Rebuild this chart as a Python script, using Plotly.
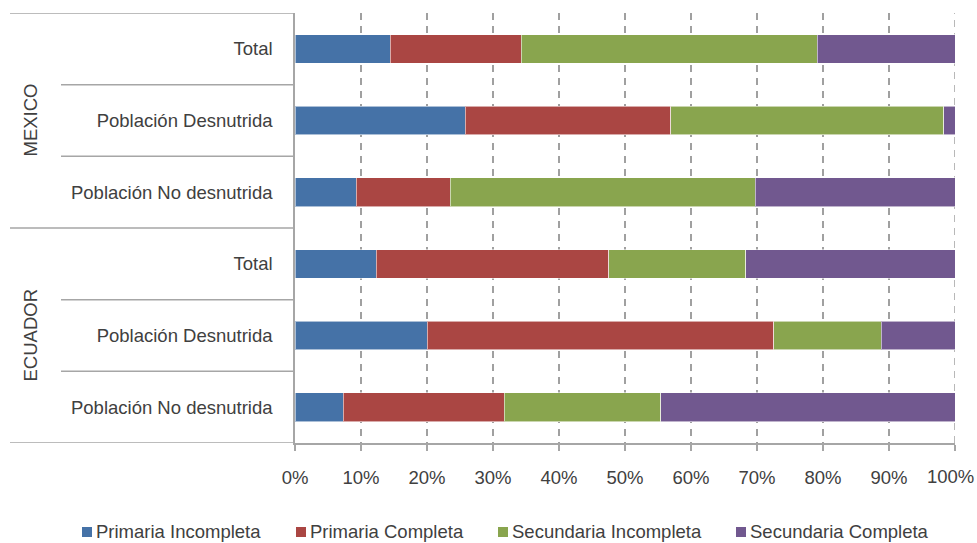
import plotly.graph_objects as go

# ---------------- data ----------------
groups = ["MEXICO", "ECUADOR"]
categories = ["Total", "Población Desnutrida", "Población No desnutrida",
              "Total", "Población Desnutrida", "Población No desnutrida"]
category_group = ["MEXICO", "MEXICO", "MEXICO", "ECUADOR", "ECUADOR", "ECUADOR"]

series_names = ["Primaria Incompleta", "Primaria Completa",
                "Secundaria Incompleta", "Secundaria Completa"]
primaria_incompleta = [14.4, 25.8, 9.3, 12.3, 20.0, 7.3]
primaria_completa = [19.9, 31.1, 14.2, 35.2, 52.5, 24.4]
secundaria_incompleta = [44.8, 41.4, 46.2, 20.8, 16.3, 23.7]
secundaria_completa = [20.9, 1.7, 30.3, 31.7, 11.2, 44.6]
series_values = [primaria_incompleta, primaria_completa,
                 secundaria_incompleta, secundaria_completa]

x_tick_values = [0, 10, 20, 30, 40, 50, 60, 70, 80, 90, 100]
x_tick_labels = [f"{v}%" for v in x_tick_values]

# ---------------- style ----------------
colors = ["#4572A7", "#AA4643", "#89A54E", "#71588F"]
FONT = "Liberation Sans, Arial, sans-serif"
FS = 18.5
TXT = "#404040"
LINE = "#A6A6A6"
GRID = "#A0A0A0"

W, H = 977, 543
L, R, T, B = 295, 22, 13, 100
PW, PH = W - L - R, H - T - B


def px(x):
    return (x - L) / PW


def py(y):
    return (H - B - y) / PH


positions = list(range(len(categories)))

fig = go.Figure()
for name, vals, col in zip(series_names, series_values, colors):
    fig.add_trace(go.Bar(
        x=vals, y=positions, orientation="h", name=name,
        marker=dict(color=col, line=dict(color="rgba(255,255,255,0.55)", width=1)),
        showlegend=False,
        hovertemplate="%{x:.1f}%<extra>" + name + "</extra>",
    ))

shapes = []
annotations = []
n = len(categories)

# dashed gridline at the right edge (plotly omits the edge gridline)
shapes.append(dict(type="line", xref="x", yref="paper",
                   x0=x_tick_values[-1], x1=x_tick_values[-1], y0=0, y1=1,
                   line=dict(color=GRID, width=1.5, dash="7px,6px"), layer="below"))

# last tick label kept inside the page (right-aligned at the page edge)
annotations.append(dict(
    x=px(976.5), y=py(476), xref="paper", yref="paper",
    text=x_tick_labels[-1], showarrow=False, xanchor="right", yanchor="middle",
    font=dict(family=FONT, size=FS, color=TXT)))

# horizontal separators on the left category area
group_bounds = []
for gi, g in enumerate(groups):
    idx = [i for i, c in enumerate(category_group) if c == g]
    group_bounds.append((min(idx) - 0.5, max(idx) + 0.5))
    annotations.append(dict(
        x=px(30), y=(min(idx) + max(idx)) / 2, xref="paper", yref="y",
        text=g, textangle=-90, showarrow=False,
        font=dict(family=FONT, size=FS, color=TXT),
        xanchor="center", yanchor="middle"))

edge_ys = sorted({b for gb in group_bounds for b in gb})
for yv in edge_ys:
    shapes.append(dict(type="line", xref="paper", yref="y",
                       x0=px(10), x1=0, y0=yv, y1=yv,
                       line=dict(color=LINE, width=1.5)))
for i in range(n - 1):
    yv = i + 0.5
    if yv not in edge_ys:
        shapes.append(dict(type="line", xref="paper", yref="y",
                           x0=px(61), x1=0, y0=yv, y1=yv,
                           line=dict(color=LINE, width=1.5)))
# small extension of the vertical axis below the bottom line
shapes.append(dict(type="line", xref="paper", yref="paper",
                   x0=0, x1=0, y0=0, y1=py(449),
                   line=dict(color=LINE, width=1.5)))

# manual legend
legend_square_x = [82, 296, 498, 736]
for name, col, sx in zip(series_names, colors, legend_square_x):
    shapes.append(dict(type="rect", xref="paper", yref="paper",
                       x0=px(sx), x1=px(sx + 10), y0=py(537), y1=py(527),
                       fillcolor=col, line=dict(width=0)))
    annotations.append(dict(
        x=px(sx + 12), y=py(531), xref="paper", yref="paper",
        text=name, showarrow=False, xanchor="left", yanchor="middle",
        font=dict(family=FONT, size=FS, color=TXT)))

fig.update_layout(
    width=W, height=H,
    margin=dict(l=L, r=R, t=T, b=B, autoexpand=False),
    barmode="stack", bargap=0.6,
    plot_bgcolor="white", paper_bgcolor="white",
    font=dict(family=FONT, size=FS, color=TXT),
    shapes=shapes, annotations=annotations,
    showlegend=False,
)
fig.update_xaxes(
    range=[0, 100], tickvals=x_tick_values,
    ticktext=x_tick_labels[:-1] + [""],
    showgrid=True, gridcolor=GRID, gridwidth=1.5, griddash="7px,6px",
    zeroline=False, showline=True, linecolor=LINE, linewidth=1.5,
    ticks="outside", ticklen=6, tickcolor=LINE, tickwidth=1.5,
    ticklabelstandoff=11, ticklabeloverflow="allow", automargin=False,
    tickfont=dict(family=FONT, size=FS, color=TXT), fixedrange=True,
)
fig.update_yaxes(
    range=[n - 0.5, -0.5], tickvals=positions, ticktext=categories,
    showgrid=False, zeroline=False, showline=True, linecolor=LINE, linewidth=1.5,
    ticks="", ticklabelstandoff=17, automargin=False,
    tickfont=dict(family=FONT, size=FS, color=TXT), fixedrange=True,
)

fig.write_html("out.html")
